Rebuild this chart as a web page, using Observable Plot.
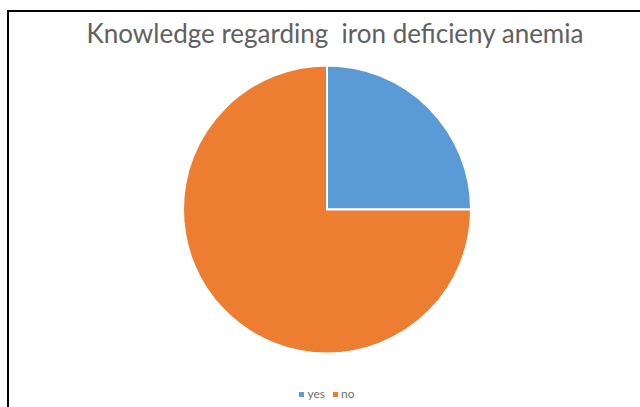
<!DOCTYPE html>
<html>
<head>
<meta charset="utf-8">
<script src="https://cdn.jsdelivr.net/npm/d3@7"></script>
<script src="https://cdn.jsdelivr.net/npm/@observablehq/plot@0.6"></script>
<style>
  html, body { margin: 0; padding: 0; background: #fff; }
  #wrap { position: relative; width: 640px; height: 407px; overflow: hidden; background: #fff; }
  #border { position: absolute; left: 7px; top: 10px; width: 640px; height: 400px; border-top: 2px solid #000; border-left: 2px solid #000; }
  #title { position: absolute; left: 0; width: 670px; top: 18px; text-align: center; font-family: Lato, "Open Sans", sans-serif; font-size: 26px; color: #606060; white-space: pre; line-height: 30px; }
  #chart { position: absolute; left: 0; top: 56px; }
  #legend { position: absolute; left: 0; width: 654px; top: 387px; text-align: center; font-family: Lato, "Open Sans", sans-serif; font-size: 12px; color: #707070; line-height: 14px; }
  #legend span.sw { display: inline-block; width: 5px; height: 5px; margin-right: 3px; vertical-align: 1px; }
  #legend span.item { margin: 0 4px; }
</style>
</head>
<body>
<div id="wrap">
  <div id="border"></div>
  <div id="title"></div>
  <div id="chart"></div>
  <div id="legend"></div>
</div>
<script>
const titleText = "Knowledge regarding  iron deficieny anemia";
const categories = ["yes", "no"];
const values = [25, 75];
const colors = ["#5B9BD5", "#ED7D31"];

const data = categories.map((c, i) => ({category: c, value: values[i]}));

document.getElementById("title").textContent = titleText;

// Pie mark: renders slices using Plot's x/y scales for center and radius
function pieMark(rows) {
  return (index, scales, channels, dimensions, context) => {
    const {x, y} = scales;
    const cx = x(0), cy = y(0);
    const r = Math.abs(x(1) - x(0));
    const arcs = d3.pie().sort(null).value(d => d.value)(rows);
    const arc = d3.arc().innerRadius(0).outerRadius(r);
    const g = d3.create("svg:g").attr("transform", `translate(${cx},${cy})`);
    g.selectAll("path")
      .data(arcs)
      .join("path")
      .attr("d", arc)
      .attr("fill", d => scales.color(d.data.category))
      .attr("stroke", "#fff")
      .attr("stroke-width", 2)
      .attr("stroke-linejoin", "miter");
    return g.node();
  };
}

const H = 320;
const cyPx = 153.5, cxPx = 327, R = 144;

const chart = Plot.plot({
  width: 640,
  height: H,
  marginLeft: cxPx - R,
  marginRight: 640 - (cxPx + R),
  marginTop: cyPx - R,
  marginBottom: H - (cyPx + R),
  x: {domain: [-1, 1], axis: null},
  y: {domain: [-1, 1], axis: null},
  color: {domain: categories, range: colors},
  marks: [
    Plot.dot(data, {x: () => 0, y: () => 0, fill: "category", r: 0}),
    pieMark(data)
  ]
});
document.getElementById("chart").appendChild(chart);

const legend = document.getElementById("legend");
categories.forEach((c, i) => {
  const item = document.createElement("span");
  item.className = "item";
  const sw = document.createElement("span");
  sw.className = "sw";
  sw.style.background = colors[i];
  item.appendChild(sw);
  item.appendChild(document.createTextNode(c));
  legend.appendChild(item);
});
</script>
</body>
</html>
